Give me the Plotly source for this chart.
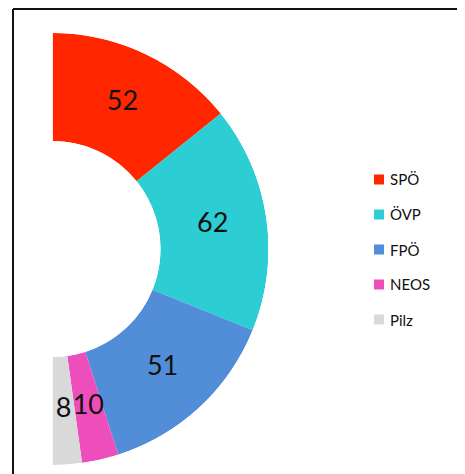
import plotly.graph_objects as go

parties = ["SPÖ", "ÖVP", "FPÖ", "NEOS", "Pilz"]
seats = [52, 62, 51, 10, 8]
colors = ["#FF2600", "#2CCDD3", "#528ED8", "#EE4DBC", "#D9D9D9"]

W, H = 465, 474
OFF = 8  # page body margin


def px(x):
    return (x - OFF) / W


def py(y):
    return (H - (y - OFF)) / H


total = sum(seats)

fig = go.Figure()

# half donut via barpolar on a right-half polar sector
start = 0.0
thetas, widths = [], []
for s in seats:
    w = s / total * 180.0
    thetas.append(start + w / 2)
    widths.append(w)
    start += w

for name, s, c, th, w in zip(parties, seats, colors, thetas, widths):
    fig.add_trace(go.Barpolar(
        r=[1], theta=[th], width=[w], name=name,
        marker=dict(color=c, line=dict(width=0)),
        showlegend=False, hoverinfo="name+text", text=[str(s)],
    ))

fig.add_trace(go.Scatterpolar(
    r=[0.5] * len(seats), theta=thetas, mode="text",
    text=[str(s) for s in seats],
    textfont=dict(family="Lato", size=27, color="#111111"),
    showlegend=False, hoverinfo="skip",
))

# polar domain in page-pixel terms
cx, cy, R = 52.5, 249.0, 216.0
fig.update_layout(
    width=W, height=H,
    margin=dict(l=0, r=0, t=0, b=0),
    paper_bgcolor="white", plot_bgcolor="white",
    polar=dict(
        domain=dict(x=[px(cx), px(cx + R)],
                    y=[py(cy + R), py(cy - R)]),
        sector=[-90, 90],
        hole=0.5,
        bgcolor="rgba(0,0,0,0)",
        bargap=0,
        radialaxis=dict(range=[0, 1], visible=False, showgrid=False),
        angularaxis=dict(rotation=90, direction="clockwise", visible=False,
                         showgrid=False),
    ),
    showlegend=False,
)

# frame (top and left edges visible)
top_y = (H - 1) / H
fig.add_shape(type="line", xref="paper", yref="paper",
              x0=px(13), x1=1.01, y0=top_y, y1=top_y,
              line=dict(color="#111111", width=2))
fig.add_shape(type="line", xref="paper", yref="paper",
              x0=px(13), x1=px(13), y0=-0.01, y1=top_y,
              line=dict(color="#111111", width=2))

# legend
ly0, dy = 179.5, 35.0
for i, (name, c) in enumerate(zip(parties, colors)):
    yc = ly0 + i * dy
    fig.add_shape(type="rect", xref="paper", yref="paper",
                  x0=px(374), x1=px(384),
                  y0=py(yc + 5), y1=py(yc - 5),
                  fillcolor=c, line=dict(width=0))
    fig.add_annotation(xref="paper", yref="paper", x=px(388), y=py(yc),
                       text=name, showarrow=False, xanchor="left", yanchor="middle",
                       font=dict(family="Lato", size=15, color="#111111"))

fig.write_html("out.html")
